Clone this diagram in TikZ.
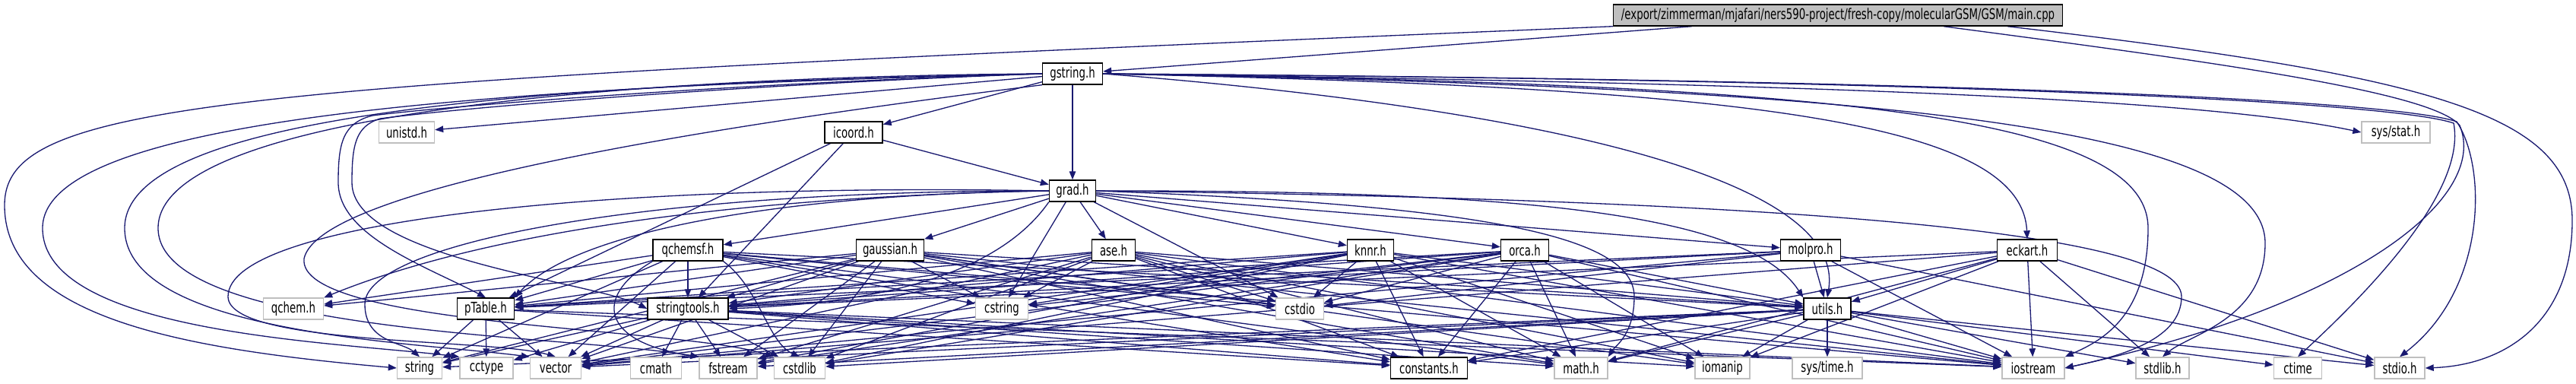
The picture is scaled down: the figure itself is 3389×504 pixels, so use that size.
\documentclass[tikz,border=0pt]{standalone}
\usepackage{fontspec}
\newfontfamily\depfont[FakeStretch=0.69]{DejaVu Sans}
\usepackage{tikz}
\usetikzlibrary{arrows.meta, backgrounds}
\definecolor{depblue}{RGB}{25,25,112}
\definecolor{boxgray}{RGB}{191,191,191}
\tikzset{
    file/.style={draw=black, fill=white, line width=0.8pt, inner sep=0pt, minimum height=0.56cm, font=\depfont\fontsize{11}{13}\selectfont},
    sysfile/.style={file, draw=boxgray},
    dep/.style={draw=depblue, line width=0.75pt, -{Triangle[length=0.22cm, width=0.17cm]}},
    every edge/.style={dep}
}

\begin{document}
\begin{tikzpicture}[x=0.02cm, y=-0.02cm]
    \useasboundingbox (0,0) rectangle (3389,504);

    % main file and its first includes
    \node[file, fill=boxgray, minimum width=11.82cm] (main) at (2418,20) {/export/zimmerman/mjafari/ners590-project/fresh-copy/molecularGSM/GSM/main.cpp};
    \node[file, minimum width=1.58cm] (gstring) at (1411,97) {gstring.h};
    \node[sysfile, minimum width=1.46cm] (unistd) at (535,174) {unistd.h};
    \node[file, minimum width=1.52cm] (icoord) at (1123,174) {icoord.h};
    \node[sysfile, minimum width=1.80cm] (sysstat) at (3152,174) {sys/stat.h};
    \node[file, minimum width=1.22cm] (grad) at (1411,251) {grad.h};

    % engine headers
    \node[file, minimum width=1.84cm] (qchemsf) at (905,329) {qchemsf.h};
    \node[file, minimum width=1.78cm] (gaussian) at (1171,329) {gaussian.h};
    \node[file, minimum width=1.14cm] (ase) at (1465,329) {ase.h};
    \node[file, minimum width=1.22cm] (knnr) at (1803,329) {knnr.h};
    \node[file, minimum width=1.26cm] (orca) at (2006,329) {orca.h};
    \node[file, minimum width=1.58cm] (molpro) at (2382,329) {molpro.h};
    \node[file, minimum width=1.58cm] (eckart) at (2667,329) {eckart.h};

    % helpers
    \node[sysfile, minimum width=1.58cm] (qchem) at (386,406) {qchem.h};
    \node[file, minimum width=1.50cm] (ptable) at (639,406) {pTable.h};
    \node[file, minimum width=2.12cm] (stringtools) at (905,406) {stringtools.h};
    \node[sysfile, minimum width=1.38cm] (cstring) at (1318,406) {cstring};
    \node[sysfile, minimum width=1.26cm] (cstdio) at (1710,406) {cstdio};
    \node[file, minimum width=1.24cm] (utils) at (2404,406) {utils.h};

    % system headers
    \node[sysfile, minimum width=1.18cm] (string) at (552,484) {string};
    \node[sysfile, minimum width=1.40cm] (cctype) at (640,484) {cctype};
    \node[sysfile, minimum width=1.34cm] (vector) at (731,484) {vector};
    \node[sysfile, minimum width=1.34cm] (cmath) at (863,484) {cmath};
    \node[sysfile, minimum width=1.52cm] (fstream) at (958,484) {fstream};
    \node[sysfile, minimum width=1.34cm] (cstdlib) at (1052,484) {cstdlib};
    \node[file, minimum width=2.02cm] (constants) at (1880,484) {constants.h};
    \node[sysfile, minimum width=1.40cm] (mathh) at (2080,484) {math.h};
    \node[sysfile, minimum width=1.44cm] (iomanip) at (2266,484) {iomanip};
    \node[sysfile, minimum width=1.84cm] (systime) at (2404,484) {sys/time.h};
    \node[sysfile, minimum width=1.64cm] (iostream) at (2675,484) {iostream};
    \node[sysfile, minimum width=1.40cm] (stdlibh) at (2845,484) {stdlib.h};
    \node[sysfile, minimum width=1.26cm] (ctime) at (3023,484) {ctime};
    \node[sysfile, minimum width=1.32cm] (stdioh) at (3157,484) {stdio.h};

    \begin{scope}[on background layer]
        % main.cpp
        \draw[dep] (main) -- (gstring);
        \draw[dep] (main.south west) .. controls (300,110) and (6,130) .. (6,270) .. controls (6,420) and (250,460) .. (string.west);
        \draw[dep] ([xshift=2.78cm]main.south) .. controls (2900,80) and (3200,120) .. (3236,165) .. controls (3275,260) and (3100,400) .. (iostream.east);
        \draw[dep] ([xshift=4.46cm]main.south) .. controls (3200,100) and (3384,150) .. (3384,290) .. controls (3384,420) and (3300,480) .. (stdioh.east);

        % gstring.h
        \path (gstring) edge (unistd) edge (icoord) edge (grad);
        \draw[dep] (gstring.east) .. controls (2400,110) and (2900,130) .. (sysstat.west);
        \draw[dep] (gstring.east) .. controls (2300,115) and (2660,160) .. (eckart.north);
        \draw[dep] (gstring.east) .. controls (2000,140) and (2430,230) .. (utils.north);
        \draw[dep] (gstring.east) .. controls (2400,110) and (2826,150) .. (2826,300) .. controls (2826,420) and (2760,450) .. (iostream.north east);
        \draw[dep] (gstring.east) .. controls (2500,115) and (2980,170) .. (2980,320) .. controls (2980,420) and (2880,440) .. (stdlibh.north);
        \draw[dep] (gstring.east) .. controls (2600,105) and (3150,135) .. (3228,162) .. controls (3245,250) and (3120,380) .. (ctime.north);
        \draw[dep] (gstring.east) .. controls (2600,105) and (3150,132) .. (3232,160) .. controls (3272,220) and (3272,380) .. (stdioh.north);
        \draw[dep] (gstring.west) .. controls (1000,108) and (600,138) .. (490,152) .. controls (450,162) and (445,190) .. (445,240) .. controls (445,310) and (560,350) .. (ptable.north);
        \draw[dep] (gstring.west) .. controls (1000,110) and (620,140) .. (500,156) .. controls (468,166) and (463,190) .. (463,240) .. controls (463,340) and (780,370) .. (stringtools.west);
        \draw[dep] (gstring.west) .. controls (600,115) and (56,160) .. (56,300) .. controls (56,440) and (450,450) .. (cctype.north west);
        \draw[dep] (gstring.west) .. controls (700,110) and (164,150) .. (164,300) .. controls (164,440) and (550,450) .. (vector.north west);
        \draw[dep] (gstring.west) .. controls (900,100) and (208,140) .. (208,300) .. controls (208,440) and (750,440) .. (fstream.north west);
        \draw[dep] (gstring.south west) .. controls (900,170) and (420,250) .. (400,340) .. controls (390,430) and (900,430) .. (cstdlib.north west);

        % icoord.h
        \path (icoord) edge (grad) edge (ptable) edge (stringtools);

        % grad.h
        \path (grad) edge (qchemsf) edge (gaussian) edge (ase) edge (knnr) edge (orca) edge (molpro) edge (cstring) edge (cstdio);
        \draw[dep] (grad.west) .. controls (1000,258) and (650,300) .. (qchem.north east);
        \draw[dep] (grad.west) .. controls (1050,255) and (760,300) .. (ptable.north east);
        \draw[dep] (grad.south west) .. controls (1300,380) and (1100,400) .. (stringtools.east);
        \draw[dep] (grad.east) .. controls (2000,250) and (2300,280) .. (utils.north west);
        \draw[dep] (grad.west) .. controls (800,240) and (300,290) .. (300,390) .. controls (300,455) and (650,445) .. (vector.north);
        \draw[dep] (grad.west) .. controls (850,250) and (480,320) .. (480,400) .. controls (480,450) and (530,450) .. (string.north);
        \draw[dep] (grad.east) .. controls (2300,262) and (2870,300) .. (2870,390) .. controls (2870,450) and (2780,470) .. (iostream.east);
        \draw[dep] (grad.east) .. controls (1950,270) and (2150,310) .. (2150,390) .. controls (2150,440) and (2125,455) .. (mathh.north east);

        % engines
        \path (qchemsf) edge (qchem) edge (ptable) edge (stringtools) edge (vector) edge (string) edge (cstring) edge (cstdio) edge (utils) edge (iostream) edge (constants) edge (mathh);
        \draw[dep] (qchemsf.south west) .. controls (780,390) and (790,450) .. (fstream.north west);
        \draw[dep] (qchemsf.south east) .. controls (1000,380) and (1010,450) .. (cstdlib.north);
        \path (gaussian) edge (qchem) edge (ptable) edge (stringtools) edge (cstring) edge (cstdio) edge (utils) edge (vector) edge (string) edge (constants) edge (mathh) edge (iostream) edge (fstream) edge (cstdlib) edge (iomanip);
        \path (ase) edge (ptable) edge (stringtools) edge (utils) edge (cstring) edge (cstdio) edge (vector) edge (constants) edge (mathh) edge (iostream) edge (fstream) edge (cstdlib) edge (iomanip);
        \path (knnr) edge (ptable) edge (stringtools) edge (utils) edge (cstring) edge (cstdio) edge (vector) edge (constants) edge (mathh) edge (iostream) edge (iomanip) edge (fstream) edge (cstdlib);
        \path (orca) edge (ptable) edge (stringtools) edge (utils) edge (cstring) edge (cstdio) edge (vector) edge (constants) edge (mathh) edge (iostream) edge (fstream) edge (cstdlib) edge (iomanip);
        \path (molpro) edge (utils) edge (stringtools) edge (ptable) edge (cstdio) edge (vector) edge (iostream) edge (stdioh);
        \path (eckart) edge (utils) edge (stringtools) edge (constants) edge (mathh) edge (iostream) edge (iomanip) edge (stdlibh) edge (stdioh) edge (vector);

        % helpers
        \path (ptable) edge (string) edge (cctype) edge (vector) edge (iostream) edge (constants);
        \path (stringtools) edge (string) edge (cctype) edge (vector) edge (cmath) edge (fstream) edge (cstdlib) edge (iostream) edge (iomanip) edge (mathh) edge (constants);
        \path (utils) edge (iomanip) edge (systime) edge (iostream) edge (stdlibh) edge (ctime) edge (stdioh) edge (mathh) edge (constants) edge (vector) edge (fstream) edge (cstdlib) edge (string);
    \end{scope}
\end{tikzpicture}
\end{document}
